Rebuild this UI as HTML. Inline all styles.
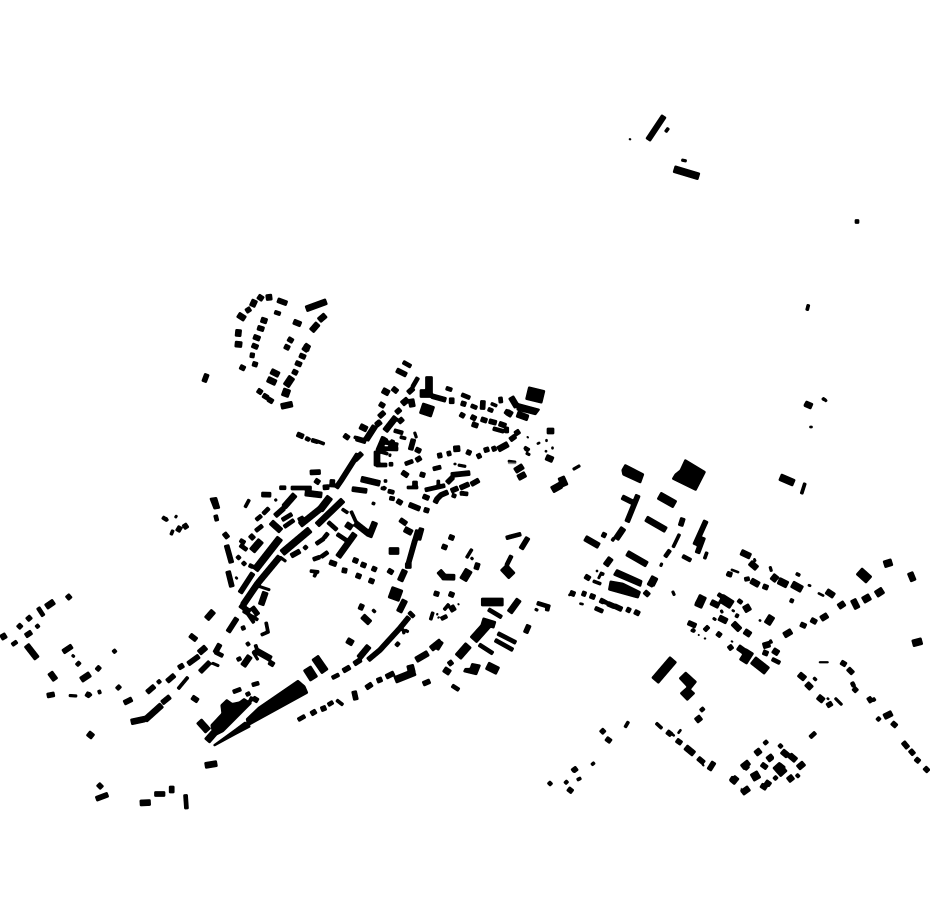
<!DOCTYPE html>
<html><head><meta charset="utf-8"><title>Map</title>
<style>html,body{margin:0;padding:0;background:#fff}svg{display:block}</style></head>
<body>
<svg xmlns="http://www.w3.org/2000/svg" width="930" height="924" viewBox="0 0 930 924">
<defs><filter id="f" filterUnits="userSpaceOnUse" x="0" y="0" width="930" height="924" color-interpolation-filters="sRGB"><feGaussianBlur stdDeviation="0.6"/><feComponentTransfer><feFuncA type="linear" slope="4" intercept="-0.6"/></feComponentTransfer></filter></defs>
<rect width="930" height="924" fill="#fff"/>
<g filter="url(#f)">
<g fill="#000">
<polygon points="685,459.3 705.7,471.7 696,490.7 672,479 675,474 680,470"/>
<polygon points="621.7,470 625,464.3 644,474 640.7,483.3 622.7,475"/>
<polygon points="616.7,569.3 642.3,580.7 640.7,586.7 613.3,575"/>
<polygon points="610,580.7 623,583 640.7,591.7 638.3,598.3 608.3,590"/>
<polygon points="679,678.3 685.7,671.7 696.7,681.7 690,690"/>
<polygon points="680,693.3 687.3,686.7 695,693.3 687.3,700.7"/>
<polygon points="210.7,725 221.7,713.3 220.7,705 226.7,699.3 232.3,703.3 239.3,701.7 244,698.3 251.7,703.3 223.3,731.7 213.3,736.7"/>
<polygon points="258.3,707.3 298,680 305,686 308,693 248,726 246,719"/>
<polygon points="213.3,745 235,729.3 245,721.7 250.7,726.7 235,735 214.3,746.3"/>
<polygon points="209.7,498.3 216.7,497.3 220,508.3 214,509.3"/>
<polygon points="517.7,403.3 540,409.3 535.7,415 516.7,410"/>
<polygon points="471.7,663.3 480.7,665 476.7,675 463.3,671.7 465,668.3 470,668.3"/>
</g>
<g fill="none" stroke="#000" stroke-linejoin="miter">
<path stroke-width="1.5" d="M629 139l2 .5M527 436.5l1.5 1.500M819 662.300h9.500M698 635h1.500M704 638.500h2M702.500 764.500l1.500 1.500M458 603.500l1 1.500M731 641l2 1"/>
<path stroke-width="2" d="M508 461l8 1M537 444l3-1.500M545 451l2 .5M524 448l3 1.500M809.500 427h3M596 571h2M579.500 603.500l4 .8M731 569.500l8 3M754 558.500l1.500 3M808 585l3 1M818 593l6 3M732 610l2.500 1.500M759 620l2 1M672 734l2.500 2M678 733.500l3-4M827 698l2 1.500M436.500 614l1.500 .5M438 617l1 1M568.500 595h1.500M235.500 577l2 2"/>
<path stroke-width="2.500" d="M573 469.500l7-4M258 586l12 4M280 557l6 4.500M275 499l1.500 2M414.500 432l2 6M524.500 447l5 3M526 453l4 2M545.500 440.500h2M551.500 448h2M458 465l8 1.500M455 463v2M405 630l3.500 2M403 629l1 5M212 663l7 3M253 652l5 8M69 695.500l8 .5M72 655l2.500 2M662 563l-1.500 3.500M770 566.500l1.500 5M713 618l3 2M721 610l1.500 3M691 630l3 1.500M835 698l7 7M471 557.500l2 2M535 609l3 1.500M672.500 591l2 4.500M824.500 399l2 2.500M681.500 160l5 1"/>
<path stroke-width="3" d="M665.500 132l3-4M400 437l6 1.500M307 438l3 2M318 441.500l6.500 2.500M354 437l3 1M491 403.500l6 2.500M378 451l10 3M389 455l2 .5M438.300 480v6M407 487.500h11M342 509l6 4M351 511l5 11M245 507.500l4.300-8M310 571l9 1M316 573l-2 4M175 516l2 1.200M165.500 518l2 3M171 535l2-5M178 689l10-12M253 651l3 3M266 622l2 10-7 3M336.500 700l6.500 5M444 610l5-6M430.500 620l2.500-8M466.500 558l5.500-9M525 449l3.500 1.500M673 547.500l6.500-13.500M704.500 559l2.500-7M612 541l2-3M593 581l8 3M600 573l4 1.500M796 573.500l4 2M692 629.500l3 2M873 698l2 3M852 682l2 4M577 780l4-2M625 727.500l3.500-6M656 723l6 5.500M801.500 494l3.500-11M808.500 304.500l-1.500 6M822.500 398l2 2M591.500 765l3-2.500M383 487l3 2M381 488l4 1M390 491l4 2M372 503l3 1M384 481l3 0M243 607l11 16M243 611l15 9"/>
<path stroke-width="4" d="M274.500 312l6 2M305.500 438l4 2M311.500 440l6.500 2M403 362l8 4.500M412.500 387l5.500-9.500M446 388l6 2M461.500 394.500l8.500 3.500M471 405.500l6 2.500M488 409l5 2M500.300 397l.7 6M493 428.500l11 3M506.700 427v6M405 464l8-3M394 430.500l9 2.500M416 449l5 2M376 465l11 0M389 464.300l4 0M377 448.500l21 .5M380 441l18 4M393 440l-3 8M433 469l8-2M425 490l20-4.500M452 495l4 1.500M460 493.500l4-.3M463 493.500l5 .5M388 491l6 1.500M389.500 498l5 1M279.500 487.700h6.500M291 488h20.500M263 514l6-6M256 520l5.500-4.500M255.500 531l7-5.500M240 540l5 3M240 545l7 5M282 520l10-6M284 527l10-7M328 522l9 8M337 534l9 6M324 538l4-5M316 544l8-5.500M313 559.500l7-2.500M321 557l7-5M304 549l3-3M373 612l2-2M215 652l8 4M246.500 645l3-2M237 660l4-2M254.500 647l3-1M233 692l8-3M252 685l7-2M246 695l4-2M298 720l7-4M328 705l5-3M332 678l7-3.500M452 685.500l7 4.500M506 538l15-4M506.500 565.500l5-10M441 619l6-3M495 640l18 10M497.700 633.300l18.300 9.400M488.300 609.300l13.400 8M537 603l13 4M548 606l-1 5M479 644.500l14 9M603 601l4 2M595 608l8 3.500M682.500 556l8.500 4.500M665 557l5-7M744.500 579.500l5-1M790 600l3.500 1.500M772 659l8 4M727 573l4 2.500M718 594l6 4M738 600l4 3M735.500 615l3 1.500M770 642l2-1M38 607.500l5.500 8.500M12 645l5-3.500M36 627.500l3-2.500M76.500 665.500l3.500-3.500M97 669.500l3-3M113 652.500l3-2.500M157.500 683l3-2.500M88 696l3-2.500M98 692.500l3-1M810 737.500l5.500-5M814 680l2-2M852 682.500l2 4M877 720.500l3-3M764 744l3.500-3M779 744.500l3 3M774 779.500l3-3M796.500 777l2.500-2.500M565 781l2.500 2.500M548.500 782l3 3M572 771l4-3M569 789l2.500 2.500M700.500 711l3.500-3M857 219.500v4M215.500 515l1.500 6M237 556l3 3M242.500 562l3 3M249 565l4 2M185.500 794.500l1 14.500M396 646l3-3.500M409 612l5 5M242.500 626l1.500 4"/>
<path stroke-width="5" d="M246 311.500l4.500-3M277.500 300l9.500 3.500M257.500 327.500l6.500 2M253.500 336.500l6.500 2.500M252 345l6 2.500M250 355l4.500 .7M252.500 363.500l5 1.500M240 366.500l5 2.500M299.500 355l6 2.500M295.500 362.500l6 2.500M292.500 371l5 2.500M284.500 346l5 2.500M288 338.500l5 3M257.500 390l4.500 3M263 395l5 3M268 399l5 3M204 382l3-8M297 434l6.500 2.800M344 435l5 3.500M356 438.500l10 3M376 425l4-3.500M355 460l7-7M408 393l5.500-5M396.500 370l10 5M392.500 388l5 4M431.500 396l14.500 4M451.700 397.700v6M461 403l5 1.500M483 400.500l-.5 9M505 411l5 3M517 414.500l11 4M460 414l4.500 2.500M471 416.500l5 2.500M472 424l6 2M481 419l6 2M489 421l7.500 2M499 423.500l7 2.500M515 434l4.500-3M510 440l5.500-4M492 449.500l4-1.500M484 450.500l5-1.500M477 457l4-2M466.500 451.500l4.500 2M447 454l4-1M437.500 456l4.500-1M379.500 403.500l5 3M396 413l4.500-4M379 417l5.500-5M398.500 422.500l4.500-4M376 425.500l5-4M384 437l-6 14M386 438l-7 11M410.500 450l3-11M415.500 449l5 2.500M416 460.500l5-3M420 474l5 1.500M415 481v7M451 475l19-2M447 483l6-6M451 491l7-3M460 488l9-4M471 484.500l8-4.500M423 496l6 2.500M358 454l-16.500 26-5.500 8M409 504.500l11 4.500M397 500.500l5 3M424 509.500l5 1.500M400 519.500l6.500 4.500M449 536.500l5 2M442 546l5 2M449 593.500l5 2M434 593l5 1.500M416.500 534.500l5 2M418 530l-8 28M435 503l2-4 4-4 7-3M310 472.500l10.500-.5M315 480l4.500 3M323 487.500l6-.5M332.500 479.500l-.5 7.500M261.500 494.500l9.500 .2M275 516l9-8M226.500 545l5 18M228 571l4 16M240 593l13-20M291 556l9-5M329.500 562l7 2.500M353 559.500l5 2M361 564l5 2M372 568l4.500 2M342 570l5 1M356 575l5 2M369 580l5 2M388 570l5 3M415 540l-7 25M421.700 528l-3.300 12M228 632l9-14M190 635l6.500 5M188 664l11-8M178.500 668l5-3M167 681.500l7.500-6.500M147 692.500l7.500-6.500M124 703l8-4M162 703l8-6.500M200 672l10-10M215 653l5-9M192 697l6 4M249.500 698.500l3 1.500M253 698l5 3M269 662l5 3M311 714l5-3M321 709.500l5-2M343 671l7-4M354 664l7-4.500M366 688l6-4M377 681l5-2M386 677l8-4M354 691l2 9M423 684l7-3M449 661l3 4M525.500 633l3.500-8M521 549l7-11.500M476 569.500l2-6.500M598.500 576l2 1M585 576l5 3M570 592.500l5 2M582 593l4 1.500M590 595.500l5 2M600 600l4 2M607.500 603.500l7 3M614.500 606l7.500 3.500M626.500 609l4 2M634.500 611.500l5 2.500M644.500 591.500l4.500 4M638 495l-11 27M622 497l10 5M683 518l-2.500 8M706 520.700l-11 24.300M703.300 537.300l-6 16M602 534l4 2M727 573.500l5 1.500M763 586l5 2M688 622.500l8 3.500M717 633l4 3M746 631.500l4 3M800.500 624l5.500 2.500M811 619.500l5.500 3M763 652l5 2M729 645.500l3 4M800 675l5 3.500M827 706l5-3M841 662l5 3M848 668.500l5 5M892 722.500l4.500 4M853.500 688l3.500 3.500M910 750l4 4.500M915.500 758.500l4 3.500M924.500 767.500l4 4M698 758l6 5M709 770l5-8M667 731.500l4.500 3.500M676.500 740l5 3.500M601 729.500l3.500 3.500M573 771l4-3M568 788.500l4.500 3.500M98 784l4 4M96 799l12-4.500M154.500 794L165 794M171.700 786v7M47 695.700l7.500-1.500M63 652l9-6M117 686l3 3M96.500 667l3.500 3M86 693.500l4 2.500M25.500 636l6-4M18 628l3.500-3.500M27 620l4-3.500M67 595l3.500 4M177.500 531.500l3-5M184 524l3 4.500M163.500 520l2-3M805 403l6 3.500M903 742l5 6M743 764l5 5M761.500 764l5.500 4M730.500 778l6 4M741 790l.5 0M761 785l5.500 3.500M765.500 781.500l5 3.500M768 759l4.500-3.500M224 533l4 5M250 535l4 4M402 472l6 4M240 605l10 7M252 607l6 8M368 660l12-10 20-22 9-11M352 489l15 2"/>
<path stroke-width="5.500" d="M648 140l16-24M261 319.500l6 2M293.500 321.500l7.500 3M303.500 347l6 2"/>
<path stroke-width="6" d="M238 314.500l7 4.500M252 306.500l3-6.500M259 300l3-4.500M266 297.700l6-.7M238.700 329.500l-.7 7M235 344l7 .7M306 309l20.500-7.500M319 320.500l6.500-5.500M311.500 331l6.500-7.500M304 351l4.500-6.500M281 406.500l11.500-2.500M271 371l8 4M267.500 379l8.500 4M360 426l7 3.500M366 440l9-14M382.500 390l6.500 3.500M402 404l6-5M411 399l1.500 8M385 431l11-14M511 397l6 10M517 414l11 4M498 449.500l10-5.500M453.500 449l6.500-.5M377 451v15M518 478l7.500-4M546 457l7 3M547 431l7 0M515 471l8-5M320 509l-20 16M343 500l-26 25M258 583l-15 22M280 556.500l-22 26.500M271 522l10 9M284 507l11-12.500M305 493l17 2M300 517l4 8M346 524l6 4M355 523l14 11M375 522l-6 15M355 533.500l-17 23.500M404.500 529l7.500 4M408.300 563v5.500M405 570l-5 11M399 612l6-12M206.500 619l7-8M261 605l4.500-13M359 606l4.500 2M362.500 616l7.500 7M347 640l6 3.500M359 658l10-12M199 653l7-6M145 720l16.700-15M243 666l7-10M255 650l16 9M436 649l5-8M416 660l12-7M431 649l10-8M444 669l6 4M450 610l5-3M509.500 612.500l9.500-13M439 571l6 7M442 577l13 .3M616 539l7.500-11M605.500 565.500l5.500-7.500M585 538l14 8M627 553l20 11.500M646 518.500l20 11.500M649.500 586l5-9M741 552l9.500 4.500M750 562.500l7 6M751 580.500l8 4.500M711 602l8 4M719 617.500l8 4M705 627l3 3M733 623l7 7M744.500 631l6 4M738 647l7 5M763 646l7-2M773 650l5.500 3.500M784 635.500l7.500-4.500M821 619l6.500-4M838.500 607l6-4M853 599.500l4.500 9M910 572.500l3.500 8.500M826.500 591l7.500 5M868 701l4-2.500M884 717l8-4M805 403.500l7 3M685.500 747l8.500 7M799 674l6 5M806.500 683.500l5 5M818 696.500l5.500 4.500M767.500 760l4.500-3.500M755.500 754l5-4M782 751l6 5M789.500 755l6.500 5.500M798 768l6-5M742 767.500l7-5.500M742 793l7-5M732 783l5-6M788 780.500l5-4M607 742l3-4M696 721l5-4M88 733l5 4M205 765.500l12-2M140 803l10.500-.5M50 672.500l5.500 7.500M26.500 645l10.500 13.500M81 680l9-6M46 607l8-5.500M2 634l3 5M131 722l14-3M361 479l19 4.500M507 412l5 3"/>
<path stroke-width="7" d="M286 386l6-9M330 497l-10 13M310 529.500l-28 23.500M280 538l-25 32M252 551l9-10.500M389 551h10M199 721l9 10M207 741l7-8M395 680l20-8M410 665l2 8M429 376.500v20.500M651 585l4-8M698 605l5-9M772 576l5 4M778.500 580.500l9 4.500M792 584l10 5.500M912.500 643.500l9.500-2.500M884 564.500l8-2.500M863 600.500l7-4M876 594.500l7-4.500M744 610l6-3.500M767 624l5-8M674 169l25 7.500M780 477l14 6M482 621l13 4M552 490l9-5M561 477l4 9"/>
<path stroke-width="8" d="M282.500 391.500l7 2.500M487 665.500l11 5.500M458 657l10.500-12M463 580l6-10M315 657.300l10 14.400M698 607l5-11M481.300 602h22M659 495.500l16 9M752 778l7-4M778 766l5 4M420 393.500h12"/>
<path stroke-width="9" d="M307 668l7 11M473.300 640l15-16.700M655 680.700l18.300-21.400M743 662l7-11M753 660l14 11M503.500 567l8.500 9M721 598l11 7M859 571l10 9M776 765l8 9"/>
<path stroke-width="11" d="M421 408l12 4"/>
<path stroke-width="12" d="M390 592l11 4"/>
<path stroke-width="13" d="M527 393l16.500 4"/>
<path stroke="#999" stroke-width="1" d="M508 463.300h8"/>
</g>
</g>
</svg>
</body></html>
